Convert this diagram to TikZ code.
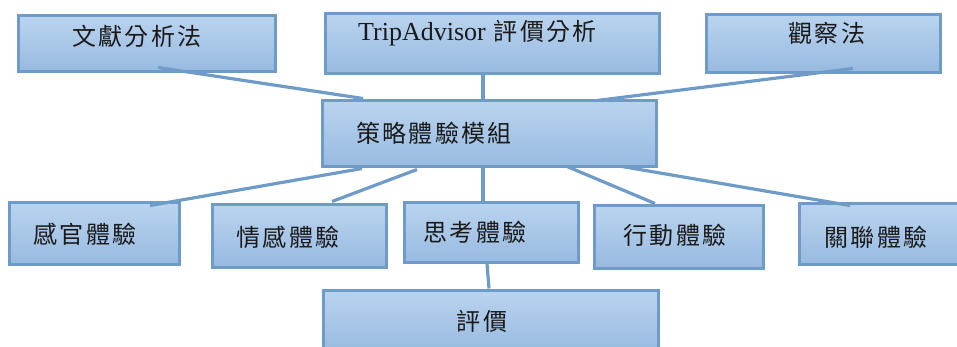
\documentclass[tikz,border=0pt]{standalone}
\usepackage{fontspec}
\setmainfont{Liberation Serif}
\newfontfamily\cjk[LetterSpace=10]{Noto Sans CJK TC}
\usetikzlibrary{calc}
\definecolor{boxtop}{HTML}{BAD4EF}
\definecolor{boxbot}{HTML}{98BAE0}
\definecolor{boxline}{HTML}{6F9BC8}
\definecolor{txt}{HTML}{1A1A1A}
\tikzset{
  box/.style={draw=boxline, line width=3pt, top color=boxtop, bottom color=boxbot,
    rectangle, inner sep=0pt},
  lbl/.style={text=txt, font=\cjk\fontsize{24}{27}\selectfont, inner sep=0pt},
  conn/.style={draw=boxline, line width=3.2pt}
}
\begin{document}
\begin{tikzpicture}[x=1pt,y=-1pt]
\useasboundingbox (0,0) rectangle (957,346);
\clip (0,0) rectangle (957,346);
% top row
\node[box, minimum width=257pt, minimum height=56pt] (lit) at (146.5,43) {};
\node[box, minimum width=334pt, minimum height=60pt] (trip) at (492,43) {};
\node[box, minimum width=234pt, minimum height=58pt] (obs) at (823,43) {};
% middle
\node[box, minimum width=334pt, minimum height=66pt] (mid) at (489,133) {};
% bottom row
\node[box, minimum width=170pt, minimum height=62pt] (sense) at (94,233) {};
\node[box, minimum width=174pt, minimum height=63pt] (feel) at (299,235.5) {};
\node[box, minimum width=174pt, minimum height=60pt] (think) at (491,232) {};
\node[box, minimum width=169pt, minimum height=63pt] (act) at (678.5,236.5) {};
\node[box, minimum width=163pt, minimum height=61pt] (rel) at (880.5,233.5) {};
\node[box, minimum width=335pt, minimum height=62pt] (eval) at (490.5,321) {};
% connectors
\draw[conn] ([xshift=11.5pt,yshift=5pt]lit.south) -- ([xshift=-126pt]mid.north);
\draw[conn] ([xshift=-9pt]trip.south) -- ([xshift=-6pt]mid.north);
\draw[conn] ([xshift=30pt,yshift=5pt]obs.south) -- ([xshift=108pt,yshift=-2pt]mid.north);
\draw[conn] ([xshift=-127pt,yshift=-1pt]mid.south) -- ([xshift=56pt,yshift=-5pt]sense.north);
\draw[conn] ([xshift=-72pt,yshift=-2pt]mid.south) -- ([xshift=33pt,yshift=1pt]feel.north);
\draw[conn] ([xshift=-6pt]mid.south) -- ([xshift=-8pt]think.north);
\draw[conn] ([xshift=78pt,yshift=1pt]mid.south) -- ([xshift=-23.5pt]act.north);
\draw[conn] ([xshift=133pt,yshift=1pt]mid.south) -- ([xshift=-30.5pt,yshift=-4pt]rel.north);
\draw[conn] ([xshift=-4pt]think.south) -- ([xshift=-1.5pt]eval.north);
% labels
\node[lbl] (tlit) at ([xshift=-9.5pt,yshift=7pt]lit.center) {文獻分析法};
\node[lbl] (ttrip) at ([xshift=-14.5pt,yshift=10pt]trip.center) {{\fontspec{Liberation Serif}\fontsize{26}{29}\selectfont TripAdvisor} 評價分析};
\node[lbl] (tobs) at ([xshift=4pt,yshift=10pt]obs.center) {觀察法};
\node[lbl] (tmid) at ([xshift=-55pt]mid.center) {策略體驗模組};
\node[lbl] (tsense) at ([xshift=-9pt,yshift=-1pt]sense.center) {感官體驗};
\node[lbl] (tfeel) at ([xshift=-11pt,yshift=-1.5pt]feel.center) {情感體驗};
\node[lbl] (tthink) at ([xshift=-16pt]think.center) {思考體驗};
\node[lbl] (tact) at ([xshift=-3.5pt,yshift=1.5pt]act.center) {行動體驗};
\node[lbl] (trel) at ([xshift=-4.5pt,yshift=-3.5pt]rel.center) {關聯體驗};
\node[lbl] (teval) at ([xshift=-8.5pt]eval.center) {評價};
\end{tikzpicture}
\end{document}
